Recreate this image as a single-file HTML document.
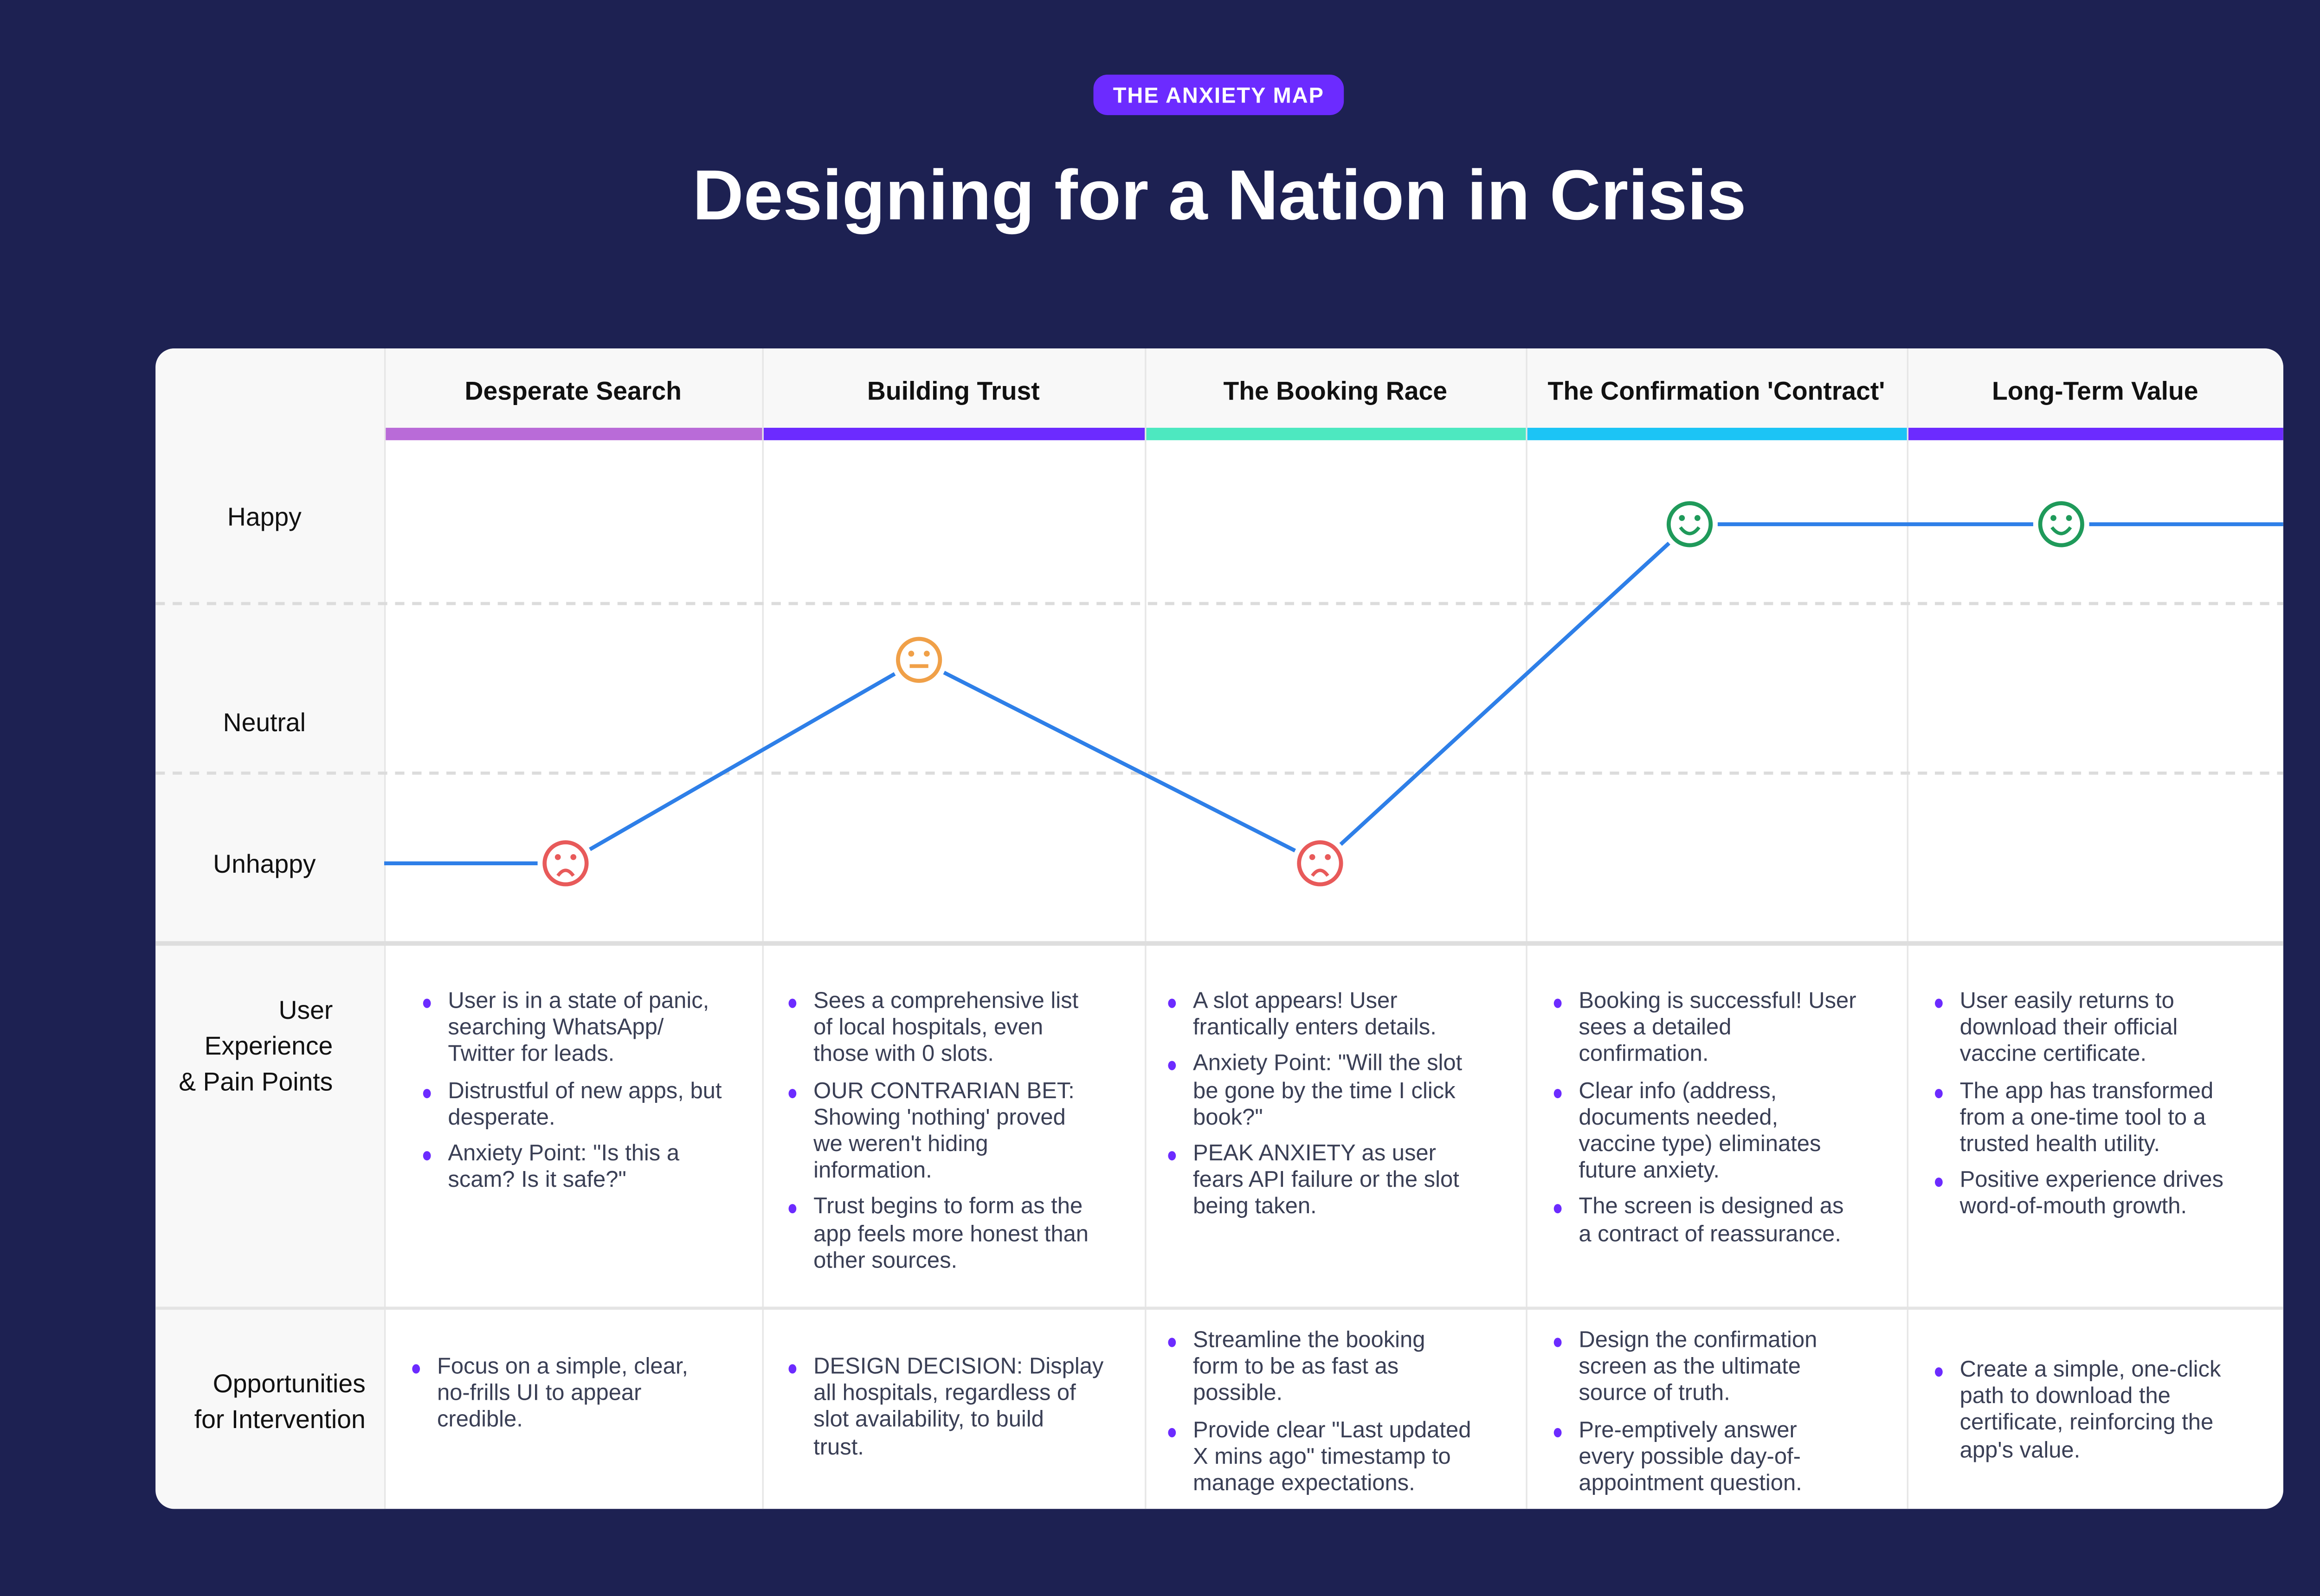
<!DOCTYPE html>
<html><head><meta charset="utf-8"><style>
html,body{margin:0;padding:0;background:#1d2152;}
body{width:5256px;height:3440px;overflow:hidden;font-family:"Liberation Sans",sans-serif;}
#root{position:absolute;left:0;top:0;width:1568px;height:1026px;transform:scale(3.3521,3.3528);transform-origin:0 0;}
.abs{position:absolute;}
#badge{left:703px;top:48px;width:161px;height:26px;background:#6c2bff;border-radius:9px;color:#fff;font-size:14px;font-weight:bold;letter-spacing:0.6px;text-align:center;line-height:26px;}
#title{left:0;width:1568px;top:100px;text-align:center;color:#fff;font-size:45.5px;font-weight:bold;}
#card{left:100px;top:224px;width:1368px;height:746px;background:#fff;border-radius:12px;overflow:hidden;}
.lab{position:absolute;left:0;width:147px;background:#f8f8f8;}
.rowlab{position:absolute;color:#111;font-size:16.5px;text-align:center;width:140px;left:0;}
.hdr{position:absolute;top:0;height:51px;background:#f8f8f8;font-size:16.5px;font-weight:bold;color:#111;text-align:center;line-height:56px;}
.bar{position:absolute;top:51px;height:8px;}
.vline{position:absolute;width:1px;background:#e6e6e6;}
.cell{position:absolute;font-size:14.6px;line-height:17.2px;color:#3a3f55;}
.cell ul{margin:0;padding:0;list-style:none;}
.cell li{position:relative;padding-left:18px;margin-bottom:6px;white-space:nowrap;}
.cell li:before{content:"";position:absolute;left:2px;top:6px;width:5px;height:6px;border-radius:50%;background:#6c2bff;}
</style></head><body>
<div id="root">
<div id="badge" class="abs">THE ANXIETY MAP</div>
<div id="title" class="abs">Designing for a Nation in Crisis</div>
<div id="card" class="abs">
  <div class="lab" style="top:0;height:746px"></div>
  <div class="hdr" style="left:147px;width:243px">Desperate Search</div>
  <div class="hdr" style="left:390px;width:246px">Building Trust</div>
  <div class="hdr" style="left:636px;width:245px">The Booking Race</div>
  <div class="hdr" style="left:881px;width:245px">The Confirmation 'Contract'</div>
  <div class="hdr" style="left:1126px;width:242px">Long-Term Value</div>
  <div class="bar" style="left:147px;width:243px;background:#b96bd8"></div>
  <div class="bar" style="left:390px;width:246px;background:#6c2bff"></div>
  <div class="bar" style="left:636px;width:245px;background:#4de8c0"></div>
  <div class="bar" style="left:881px;width:245px;background:#1cc4f5"></div>
  <div class="bar" style="left:1126px;width:242px;background:#6c2bff"></div>
  <div class="vline" style="left:147px;top:0;height:746px"></div>
  <div class="vline" style="left:390px;top:0;height:746px"></div>
  <div class="vline" style="left:636px;top:0;height:746px"></div>
  <div class="vline" style="left:881px;top:0;height:746px"></div>
  <div class="vline" style="left:1126px;top:0;height:746px"></div>
  <div class="abs" style="left:0;top:381px;width:1368px;height:3px;background:#dedede"></div>
  <div class="abs" style="left:0;top:616px;width:1368px;height:2px;background:#e4e4e4"></div>
  <div class="rowlab" style="top:100px">Happy</div>
  <div class="rowlab" style="top:232px">Neutral</div>
  <div class="rowlab" style="top:323px">Unhappy</div>
  <div class="rowlab" style="top:415px;text-align:right;width:114px;line-height:23px">User<br>Experience<br>&amp; Pain Points</div>
  <div class="rowlab" style="top:655px;text-align:right;width:135px;line-height:23px">Opportunities<br>for Intervention</div>
  <svg id="chart" class="abs" style="left:0;top:0" width="1368" height="384"></svg>

  <div class="cell" style="left:170px;top:412px"><ul>
   <li>User is in a state of panic,<br>searching WhatsApp/<br>Twitter for leads.</li>
   <li>Distrustful of new apps, but<br>desperate.</li>
   <li>Anxiety Point: "Is this a<br>scam? Is it safe?"</li></ul></div>
  <div class="cell" style="left:405px;top:412px"><ul>
   <li>Sees a comprehensive list<br>of local hospitals, even<br>those with 0 slots.</li>
   <li>OUR CONTRARIAN BET:<br>Showing 'nothing' proved<br>we weren't hiding<br>information.</li>
   <li>Trust begins to form as the<br>app feels more honest than<br>other sources.</li></ul></div>
  <div class="cell" style="left:649px;top:412px"><ul>
   <li>A slot appears! User<br>frantically enters details.</li>
   <li>Anxiety Point: "Will the slot<br>be gone by the time I click<br>book?"</li>
   <li>PEAK ANXIETY as user<br>fears API failure or the slot<br>being taken.</li></ul></div>
  <div class="cell" style="left:897px;top:412px"><ul>
   <li>Booking is successful! User<br>sees a detailed<br>confirmation.</li>
   <li>Clear info (address,<br>documents needed,<br>vaccine type) eliminates<br>future anxiety.</li>
   <li>The screen is designed as<br>a contract of reassurance.</li></ul></div>
  <div class="cell" style="left:1142px;top:412px"><ul>
   <li>User easily returns to<br>download their official<br>vaccine certificate.</li>
   <li>The app has transformed<br>from a one-time tool to a<br>trusted health utility.</li>
   <li>Positive experience drives<br>word-of-mouth growth.</li></ul></div>

  <div class="cell" style="left:163px;top:647px"><ul>
   <li>Focus on a simple, clear,<br>no-frills UI to appear<br>credible.</li></ul></div>
  <div class="cell" style="left:405px;top:647px"><ul>
   <li>DESIGN DECISION: Display<br>all hospitals, regardless of<br>slot availability, to build<br>trust.</li></ul></div>
  <div class="cell" style="left:649px;top:630px"><ul>
   <li>Streamline the booking<br>form to be as fast as<br>possible.</li>
   <li>Provide clear "Last updated<br>X mins ago" timestamp to<br>manage expectations.</li></ul></div>
  <div class="cell" style="left:897px;top:630px"><ul>
   <li>Design the confirmation<br>screen as the ultimate<br>source of truth.</li>
   <li>Pre-emptively answer<br>every possible day-of-<br>appointment question.</li></ul></div>
  <div class="cell" style="left:1142px;top:649px"><ul>
   <li>Create a simple, one-click<br>path to download the<br>certificate, reinforcing the<br>app's value.</li></ul></div>
</div>
</div>
<script>
const stages = ["Desperate Search","Building Trust","The Booking Race","The Confirmation 'Contract'","Long-Term Value"];
const sentiment = [0, 1.2, 0, 2, 2]; // 0 unhappy, 1 neutral, 2 happy
const pointX = [0.48, 0.41, 0.46, 0.43, 0.41]; // relative position of marker within stage column
const levelLabels = ["Unhappy","Neutral","Happy"];
(function(){
  const svg = document.getElementById('chart');
  const NS = 'http://www.w3.org/2000/svg';
  const colL = [147,390,636,881,1126], colW=[243,246,245,245,242];
  const y = v => 331 - v*109;
  const x = i => colL[i] + colW[i]*pointX[i];
  function mk(t,a){const e=document.createElementNS(NS,t);for(const k in a)e.setAttribute(k,a[k]);svg.appendChild(e);return e;}
  [164,273].forEach(yy=>{const l=mk('line',{x1:0,x2:1368,y1:yy,y2:yy,stroke:'#dcdcdc','stroke-width':2,'stroke-dasharray':'6 5'});
    
    });
  const gap=18;
  const pts = sentiment.map((v,i)=>[x(i),y(v)]);
  const all = [[147,y(sentiment[0])], ...pts, [1368,y(sentiment[sentiment.length-1])]];
  for(let i=0;i<all.length-1;i++){
    let [x1,y1]=all[i],[x2,y2]=all[i+1];
    const dx=x2-x1,dy=y2-y1,L=Math.hypot(dx,dy);
    if(i>0){x1+=dx/L*gap;y1+=dy/L*gap;}
    if(i<all.length-2){x2-=dx/L*gap;y2-=dy/L*gap;}
    const s=mk('line',{x1,y1,x2,y2,stroke:'#2e7fe8','stroke-width':2.5});
    
    
  }
  pts.forEach(([cx,cy],i)=>{
    const v=sentiment[i];
    const col = v>=1.5?'#1f9a5a':(v>=0.5?'#f0a048':'#e85a5a');
    const g=document.createElementNS(NS,'g');svg.appendChild(g);
    
    
    const add=(t,a)=>{const e=document.createElementNS(NS,t);for(const k in a)e.setAttribute(k,a[k]);g.appendChild(e);};
    add('circle',{cx,cy,r:13.5,fill:'#fff',stroke:col,'stroke-width':2.6});
    add('circle',{cx:cx-5,cy:cy-4,r:1.9,fill:col});
    add('circle',{cx:cx+5,cy:cy-4,r:1.9,fill:col});
    if(v>=1.5) add('path',{d:`M${cx-6} ${cy+2} Q${cx} ${cy+10} ${cx+6} ${cy+2}`,fill:'none',stroke:col,'stroke-width':2.2});
    else if(v>=0.5) add('line',{x1:cx-6,x2:cx+6,y1:cy+4,y2:cy+4,stroke:col,'stroke-width':2.4});
    else add('path',{d:`M${cx-5} ${cy+8} Q${cx} ${cy+1} ${cx+5} ${cy+8}`,fill:'none',stroke:col,'stroke-width':2.2});
  });
})();
</script>
</body></html>
